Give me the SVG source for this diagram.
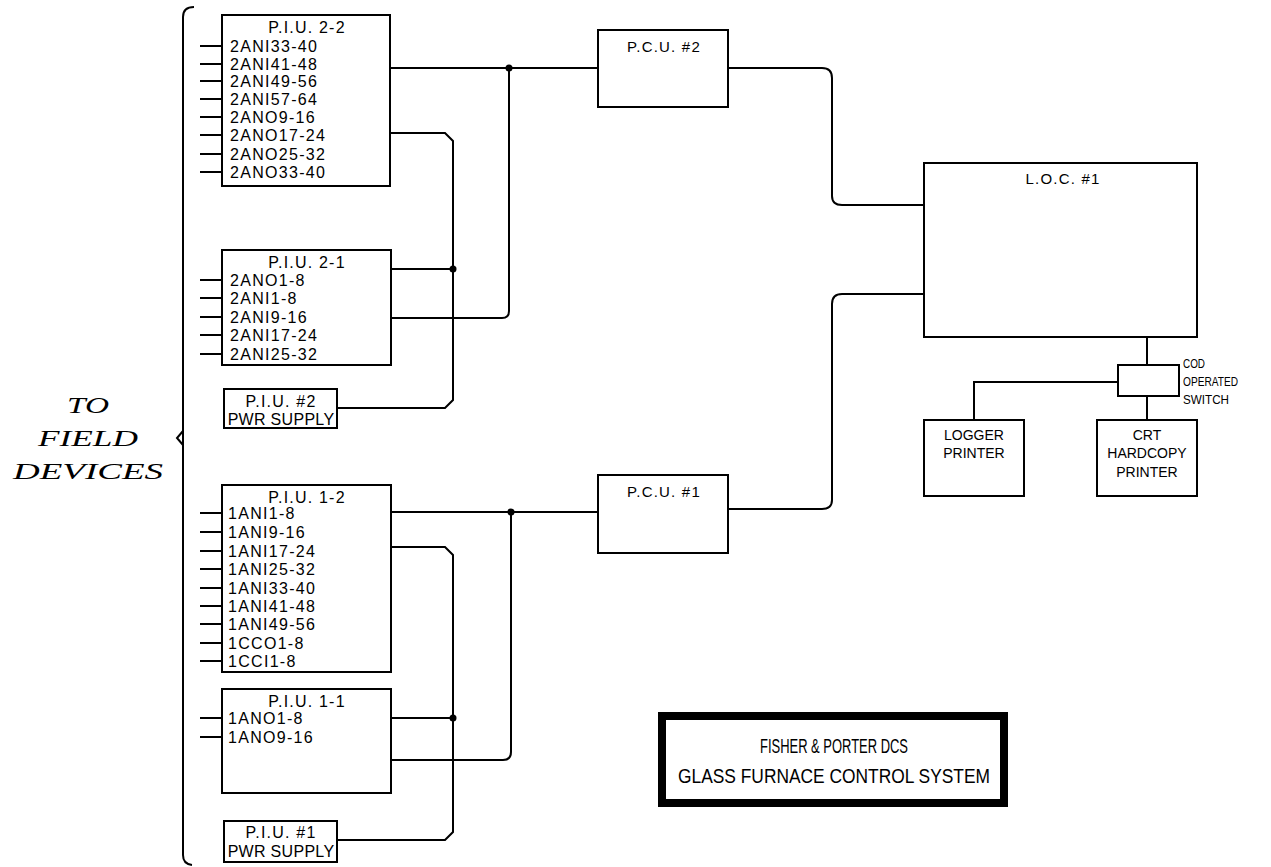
<svg xmlns="http://www.w3.org/2000/svg" width="1271" height="867" viewBox="0 0 1271 867">
<style>
.box{fill:none;stroke:#000;stroke-width:2}
.ln{fill:none;stroke:#000;stroke-width:2}
.t{font-family:"Liberation Sans",Arial,sans-serif;font-size:16px;letter-spacing:1.3px;fill:#000}
.tc{font-family:"Liberation Sans",Arial,sans-serif;font-size:16px;letter-spacing:1.2px;fill:#000;text-anchor:middle}
.ts{font-family:"Liberation Sans",Arial,sans-serif;font-size:14px;fill:#000;text-anchor:middle}
.tl{font-family:"Liberation Sans",Arial,sans-serif;font-size:13px;fill:#000}
.fd{font-family:"Liberation Serif","Times New Roman",serif;font-style:italic;font-size:23px;fill:#000;text-anchor:middle}
.tt{font-family:"Liberation Sans",Arial,sans-serif;font-size:21px;fill:#000;text-anchor:middle}
.dot{fill:#000}
</style>
<rect width="1271" height="867" fill="#fff"/>

<g id="field-devices">
<path class="ln" d="M194,7 Q183,7 183,17 V855 Q183,864 192,865"/>
<path class="ln" d="M183,431 L177,438 L183,445"/>
<text class="fd" x="88" y="413" textLength="42" lengthAdjust="spacingAndGlyphs">TO</text>
<text class="fd" x="88" y="446" textLength="100" lengthAdjust="spacingAndGlyphs">FIELD</text>
<text class="fd" x="88" y="479" textLength="150" lengthAdjust="spacingAndGlyphs">DEVICES</text>
</g>

<g id="piu-2-2">
<rect class="box" x="222" y="15" width="168" height="171"/>
<text class="tc" x="307" y="33">P.I.U.  2-2</text>
<path class="ln" d="M200,46H222M200,64H222M200,81H222M200,99H222M200,117H222M200,135H222M200,154H222M200,172H222"/>
<text class="t" x="230" y="52">2ANI33-40</text>
<text class="t" x="230" y="70">2ANI41-48</text>
<text class="t" x="230" y="87">2ANI49-56</text>
<text class="t" x="230" y="105">2ANI57-64</text>
<text class="t" x="230" y="123">2ANO9-16</text>
<text class="t" x="230" y="141">2ANO17-24</text>
<text class="t" x="230" y="160">2ANO25-32</text>
<text class="t" x="230" y="178">2ANO33-40</text>
</g>

<g id="piu-2-1">
<rect class="box" x="222" y="250" width="169" height="115"/>
<text class="tc" x="307" y="268">P.I.U.  2-1</text>
<path class="ln" d="M200,280H222M200,298H222M200,317H222M200,335H222M200,354H222"/>
<text class="t" x="230" y="286">2ANO1-8</text>
<text class="t" x="230" y="304">2ANI1-8</text>
<text class="t" x="230" y="323">2ANI9-16</text>
<text class="t" x="230" y="341">2ANI17-24</text>
<text class="t" x="230" y="360">2ANI25-32</text>
</g>

<g id="piu-2-pwr">
<rect class="box" x="224" y="389" width="113" height="39"/>
<text class="tc" x="281" y="407">P.I.U.  #2</text>
<text class="tc" x="281" y="425" style="letter-spacing:0.3px">PWR  SUPPLY</text>
</g>

<g id="piu-1-2">
<rect class="box" x="222" y="485" width="169" height="187"/>
<text class="tc" x="307" y="503">P.I.U.  1-2</text>
<path class="ln" d="M200,513H222M200,532H222M200,551H222M200,569H222M200,588H222M200,606H222M200,624H222M200,643H222M200,661H222"/>
<text class="t" x="228" y="519">1ANI1-8</text>
<text class="t" x="228" y="538">1ANI9-16</text>
<text class="t" x="228" y="557">1ANI17-24</text>
<text class="t" x="228" y="575">1ANI25-32</text>
<text class="t" x="228" y="594">1ANI33-40</text>
<text class="t" x="228" y="612">1ANI41-48</text>
<text class="t" x="228" y="630">1ANI49-56</text>
<text class="t" x="228" y="649">1CCO1-8</text>
<text class="t" x="228" y="667">1CCI1-8</text>
</g>

<g id="piu-1-1">
<rect class="box" x="222" y="689" width="169" height="104"/>
<text class="tc" x="307" y="707">P.I.U.  1-1</text>
<path class="ln" d="M200,718H222M200,737H222"/>
<text class="t" x="228" y="724">1ANO1-8</text>
<text class="t" x="228" y="743">1ANO9-16</text>
</g>

<g id="piu-1-pwr">
<rect class="box" x="224" y="821" width="113" height="41"/>
<text class="tc" x="281" y="838">P.I.U.  #1</text>
<text class="tc" x="281" y="857" style="letter-spacing:0.3px">PWR  SUPPLY</text>
</g>

<g id="pcu-2">
<rect class="box" x="598" y="30" width="130" height="77"/>
<text class="tc" x="664" y="52" style="font-size:15px">P.C.U.  #2</text>
</g>

<g id="pcu-1">
<rect class="box" x="598" y="475" width="130" height="78"/>
<text class="tc" x="664" y="497" style="font-size:15px">P.C.U.  #1</text>
</g>

<g id="loc-1">
<rect class="box" x="924" y="163" width="273" height="174"/>
<text class="tc" x="1063" y="184" style="font-size:15px">L.O.C.  #1</text>
</g>

<g id="cod-switch">
<rect class="box" x="1118" y="365" width="61" height="31"/>
<text class="tl" x="1183" y="368" textLength="22" lengthAdjust="spacingAndGlyphs">COD</text>
<text class="tl" x="1183" y="386" textLength="55" lengthAdjust="spacingAndGlyphs">OPERATED</text>
<text class="tl" x="1183" y="404" textLength="46" lengthAdjust="spacingAndGlyphs">SWITCH</text>
</g>

<g id="logger-printer">
<rect class="box" x="924" y="420" width="100" height="76"/>
<text class="ts" x="974" y="440">LOGGER</text>
<text class="ts" x="974" y="458">PRINTER</text>
</g>

<g id="crt-printer">
<rect class="box" x="1097" y="420" width="100" height="76"/>
<text class="ts" x="1147" y="440">CRT</text>
<text class="ts" x="1147" y="458">HARDCOPY</text>
<text class="ts" x="1147" y="477">PRINTER</text>
</g>

<g id="title-block">
<rect x="662" y="716" width="342" height="87" fill="none" stroke="#000" stroke-width="8"/>
<text class="tt" x="834" y="753" textLength="148" lengthAdjust="spacingAndGlyphs">FISHER &amp; PORTER DCS</text>
<text class="tt" x="834" y="783" textLength="312" lengthAdjust="spacingAndGlyphs">GLASS FURNACE CONTROL SYSTEM</text>
</g>

<g id="connectors">
<path class="ln" d="M391,68H598"/>
<path class="ln" d="M509,68V311Q509,318 502,318H391"/>
<path class="ln" d="M391,269H453"/>
<path class="ln" d="M391,133H445L453,141V400L445,408H337"/>
<path class="ln" d="M728,68H822Q832,68 832,78V196Q832,205 842,205H924"/>
<path class="ln" d="M924,294H842Q832,294 832,304V500Q832,509 822,509H728"/>
<path class="ln" d="M391,512H598"/>
<path class="ln" d="M511,512V752Q511,760 503,760H391"/>
<path class="ln" d="M391,547H445L453,555V832L445,840H337"/>
<path class="ln" d="M391,718H453"/>
<path class="ln" d="M1147,337V365"/>
<path class="ln" d="M1118,382H974V420"/>
<path class="ln" d="M1147,396V420"/>
<circle class="dot" cx="509" cy="68" r="3.5"/>
<circle class="dot" cx="453" cy="269" r="3.5"/>
<circle class="dot" cx="511" cy="512" r="3.5"/>
<circle class="dot" cx="453" cy="718" r="3.5"/>
</g>
</svg>
